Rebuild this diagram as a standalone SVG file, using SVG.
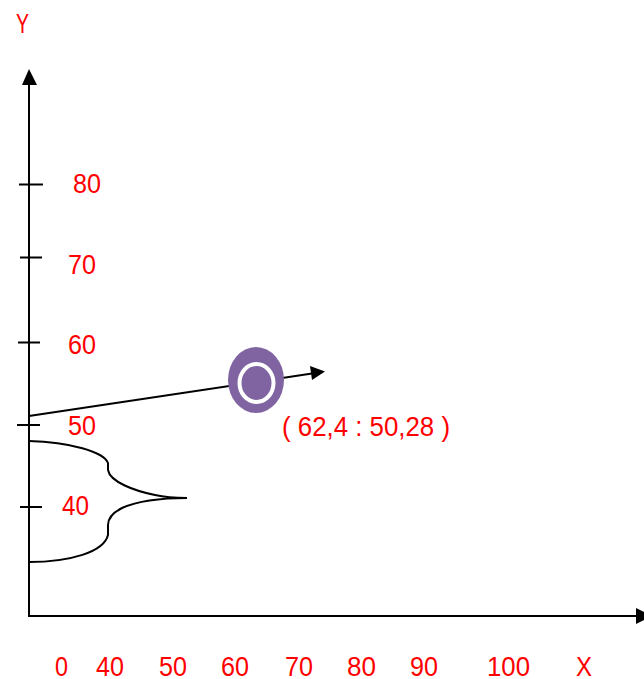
<svg xmlns="http://www.w3.org/2000/svg" width="644" height="679" viewBox="0 0 644 679">
<style>
.lbl{font-family:"Liberation Sans",Arial,sans-serif;font-size:28px;fill:#FF0000}
.ax{stroke:#000;stroke-width:2;fill:none}
.tk{stroke:#000;stroke-width:2}
</style>
<defs>
<marker id="ah" viewBox="0 0 10 10" refX="10" refY="5" markerWidth="8" markerHeight="8" markerUnits="userSpaceOnUse" orient="auto"/>
</defs>
<rect width="644" height="679" fill="#fff"/>
<g id="axes">
<line class="ax" x1="29" y1="617" x2="29" y2="82"/>
<polygon points="29,69 22,85 37,85" fill="#000"/>
<line class="ax" x1="29" y1="616" x2="638" y2="616"/>
<polygon points="652,616 636,608 636,624" fill="#000"/>
<line class="tk" x1="19" y1="184.5" x2="43" y2="184.5"/>
<line class="tk" x1="20" y1="257.5" x2="42" y2="257.5"/>
<line class="tk" x1="18" y1="342.5" x2="40" y2="342.5"/>
<line class="tk" x1="17" y1="425" x2="40" y2="425"/>
<line class="tk" x1="20" y1="507" x2="42" y2="507"/>
</g>
<g id="labels">
<text class="lbl" x="16" y="33" textLength="13" lengthAdjust="spacingAndGlyphs">Y</text>
<text class="lbl" x="73" y="193" textLength="28" lengthAdjust="spacingAndGlyphs">80</text>
<text class="lbl" x="68" y="274" textLength="28" lengthAdjust="spacingAndGlyphs">70</text>
<text class="lbl" x="68" y="354" textLength="28" lengthAdjust="spacingAndGlyphs">60</text>
<text class="lbl" x="68" y="435" textLength="28" lengthAdjust="spacingAndGlyphs">50</text>
<text class="lbl" x="62" y="515" textLength="27" lengthAdjust="spacingAndGlyphs">40</text>
<text class="lbl" x="55" y="676" textLength="13" lengthAdjust="spacingAndGlyphs">0</text>
<text class="lbl" x="96" y="676" textLength="28" lengthAdjust="spacingAndGlyphs">40</text>
<text class="lbl" x="159" y="676" textLength="28" lengthAdjust="spacingAndGlyphs">50</text>
<text class="lbl" x="221" y="676" textLength="28" lengthAdjust="spacingAndGlyphs">60</text>
<text class="lbl" x="285" y="676" textLength="28" lengthAdjust="spacingAndGlyphs">70</text>
<text class="lbl" x="347" y="676" textLength="29" lengthAdjust="spacingAndGlyphs">80</text>
<text class="lbl" x="410" y="676" textLength="28" lengthAdjust="spacingAndGlyphs">90</text>
<text class="lbl" x="487" y="676" textLength="43" lengthAdjust="spacingAndGlyphs">100</text>
<text class="lbl" x="576" y="676" textLength="16" lengthAdjust="spacingAndGlyphs">X</text>
<text class="lbl" x="282" y="436" textLength="168" lengthAdjust="spacingAndGlyphs">( 62,4 : 50,28 )</text>
</g>
<g id="connectors">
<line class="ax" x1="29" y1="416" x2="312" y2="373.5"/>
<polygon points="325,371.5 310,366 312,380" fill="#000"/>
</g>
<g id="bell">
<path class="ax" d="M29,441 C70,442 104,452 108,463 L108,470 C110,482 135,491 155,495 C168,498 178,498 187,498 C168,498 140,500 122,508 C112,513 108,518 108,525 L108,535 C104,552 70,562 29,562"/>
</g>
<g id="point">
<ellipse cx="256" cy="380" rx="28" ry="33" fill="#8064A2"/>
<ellipse cx="256.5" cy="383" rx="17" ry="19" fill="#8064A2" stroke="#fff" stroke-width="4"/>
</g>
</svg>
